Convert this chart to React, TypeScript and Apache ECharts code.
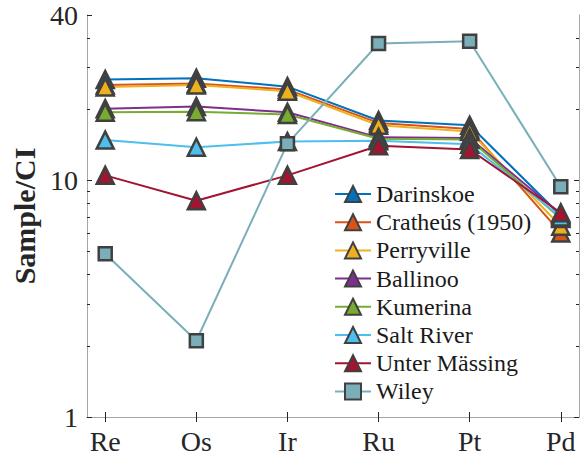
import React, { useEffect, useRef } from 'react';
import * as echarts from 'echarts';

const categories = ['Re', 'Os', 'Ir', 'Ru', 'Pt', 'Pd'];
const seriesNames = ['Darinskoe', 'Cratheús (1950)', 'Perryville', 'Ballinoo', 'Kumerina', 'Salt River', 'Unter Mässing', 'Wiley'];
const darinskoe = [26.7, 27.0, 24.9, 17.9, 17.1, 7.1];
const cratheus = [25.3, 25.7, 24.2, 17.5, 16.5, 6.0];
const perryville = [24.8, 25.3, 23.8, 17.1, 16.1, 6.4];
const ballinoo = [20.1, 20.5, 19.4, 15.2, 15.1, 7.2];
const kumerina = [19.4, 19.5, 19.0, 15.0, 14.9, 6.9];
const saltRiver = [14.8, 13.8, 14.6, 14.7, 14.2, 7.0];
const unterMassing = [10.5, 8.2, 10.5, 14.0, 13.5, 7.3];
const wiley = [4.9, 2.1, 14.3, 37.9, 38.7, 9.4];
const seriesValues = [darinskoe, cratheus, perryville, ballinoo, kumerina, saltRiver, unterMassing, wiley];
const colors = ['#0072BD', '#D95319', '#EDB120', '#7E2F8E', '#77AC30', '#4DBEEE', '#A2142F', '#7AAFBA'];
const symbols = ['triangle', 'triangle', 'triangle', 'triangle', 'triangle', 'triangle', 'triangle', 'rect'];
const yTickValues = [1, 10, 50];
const yTickLabels = ['1', '10', '40'];
const yMinorTickValues = [2, 3, 4, 5, 6, 7, 8, 9, 20, 30, 40];
const xPositions = [1, 2, 3, 4, 5, 6];

const FONT = 'Liberation Serif, serif';
const AXIS_COLOR = '#a6a6a6';
const TICK_COLOR = '#262626';

export default function App() {
  const ref = useRef<HTMLDivElement>(null);
  useEffect(() => {
    if (!ref.current) return;
    const chart = echarts.init(ref.current, null, { renderer: 'svg' });
    const yMax = 50;
    const logMax = Math.log10(yMax);
    const minorLog = yMinorTickValues.map((v) => Math.log10(v));
    const majorLog = [0, 1];
    const hiddenValueAxis = (position: string, values: number[], len: number, line: boolean) => ({
      type: 'value',
      position,
      min: 0,
      max: logMax,
      axisLine: { show: line, lineStyle: { color: AXIS_COLOR, width: 1 } },
      axisTick: { show: true, inside: true, length: len, customValues: values, lineStyle: { color: TICK_COLOR, width: 1 } },
      axisLabel: { show: false },
      splitLine: { show: false },
    });
    const option: any = {
      animation: false,
      backgroundColor: '#ffffff',
      textStyle: { fontFamily: FONT },
      grid: { left: 87, right: 7, top: 15, bottom: 38, containLabel: false, outerBoundsMode: 'none' },
      xAxis: [
        {
          type: 'value',
          position: 'bottom',
          min: 0.8,
          max: 6.2,
          axisLine: { show: true, lineStyle: { color: AXIS_COLOR, width: 1 } },
          axisTick: { show: true, inside: true, length: 5, customValues: xPositions, lineStyle: { color: TICK_COLOR } },
          axisLabel: {
            show: true,
            customValues: xPositions,
            margin: 13,
            lineHeight: 22,
            fontFamily: FONT,
            fontSize: 28,
            color: '#262626',
            formatter: (v: number) => categories[Math.round(v) - 1] ?? '',
          },
          splitLine: { show: false },
        },
        {
          type: 'value',
          position: 'top',
          min: 0.8,
          max: 6.2,
          axisLine: { show: true, lineStyle: { color: AXIS_COLOR, width: 1 } },
          axisTick: { show: true, inside: true, length: 5, customValues: xPositions, lineStyle: { color: TICK_COLOR } },
          axisLabel: { show: false },
          splitLine: { show: false },
        },
      ],
      yAxis: [
        {
          type: 'log',
          logBase: 10,
          position: 'left',
          min: 1,
          max: yMax,
          name: 'Sample/CI',
          nameLocation: 'middle',
          nameRotate: 90,
          nameGap: 42,
          nameTextStyle: { fontFamily: FONT, fontSize: 30, fontWeight: 'bold', color: '#262626' },
          axisLine: { show: true, lineStyle: { color: AXIS_COLOR, width: 1 } },
          axisTick: { show: true, inside: true, length: 5, lineStyle: { color: TICK_COLOR } },
          axisLabel: {
            show: true,
            margin: 9,
            fontFamily: FONT,
            fontSize: 28,
            color: '#262626',
            formatter: (v: number) => {
              let best = 0;
              yTickValues.forEach((t, i) => {
                if (Math.abs(Math.log10(t) - Math.log10(v)) < Math.abs(Math.log10(yTickValues[best]) - Math.log10(v))) best = i;
              });
              return yTickLabels[best];
            },
          },
          splitLine: { show: false },
          minorTick: { show: false },
        },
        hiddenValueAxis('left', minorLog, 3, false),
        hiddenValueAxis('right', majorLog, 5, true),
        hiddenValueAxis('right', minorLog, 3, false),
      ],
      legend: {
        orient: 'vertical',
        left: 329,
        top: 177,
        itemWidth: 36,
        itemHeight: 20,
        itemGap: 4.2,
        textStyle: { fontFamily: FONT, fontSize: 24, color: '#1a1a1a' },
        data: seriesNames.map((name) => ({ name, textStyle: { fontFamily: FONT, fontSize: 24 } })),
      },
      series: seriesNames.map((name, i) => ({
        type: 'line',
        name,
        xAxisIndex: 0,
        yAxisIndex: 0,
        data: seriesValues[i].map((v, j) => [xPositions[j], v]),
        symbol: symbols[i],
        symbolSize: symbols[i] === 'rect' ? 13 : 17,
        showAllSymbol: true,
        lineStyle: { color: colors[i], width: 2 },
        itemStyle: { color: colors[i], borderColor: '#404040', borderWidth: 2.5 },
        emphasis: { disabled: true },
      })),
    };
    chart.setOption(option);
    return () => chart.dispose();
  }, []);
  return (
    <div style={{ position: 'fixed', left: 0, top: 0, width: 586, height: 455, background: '#fff' }}>
      <div ref={ref} style={{ width: 586, height: 455 }} />
    </div>
  );
}
